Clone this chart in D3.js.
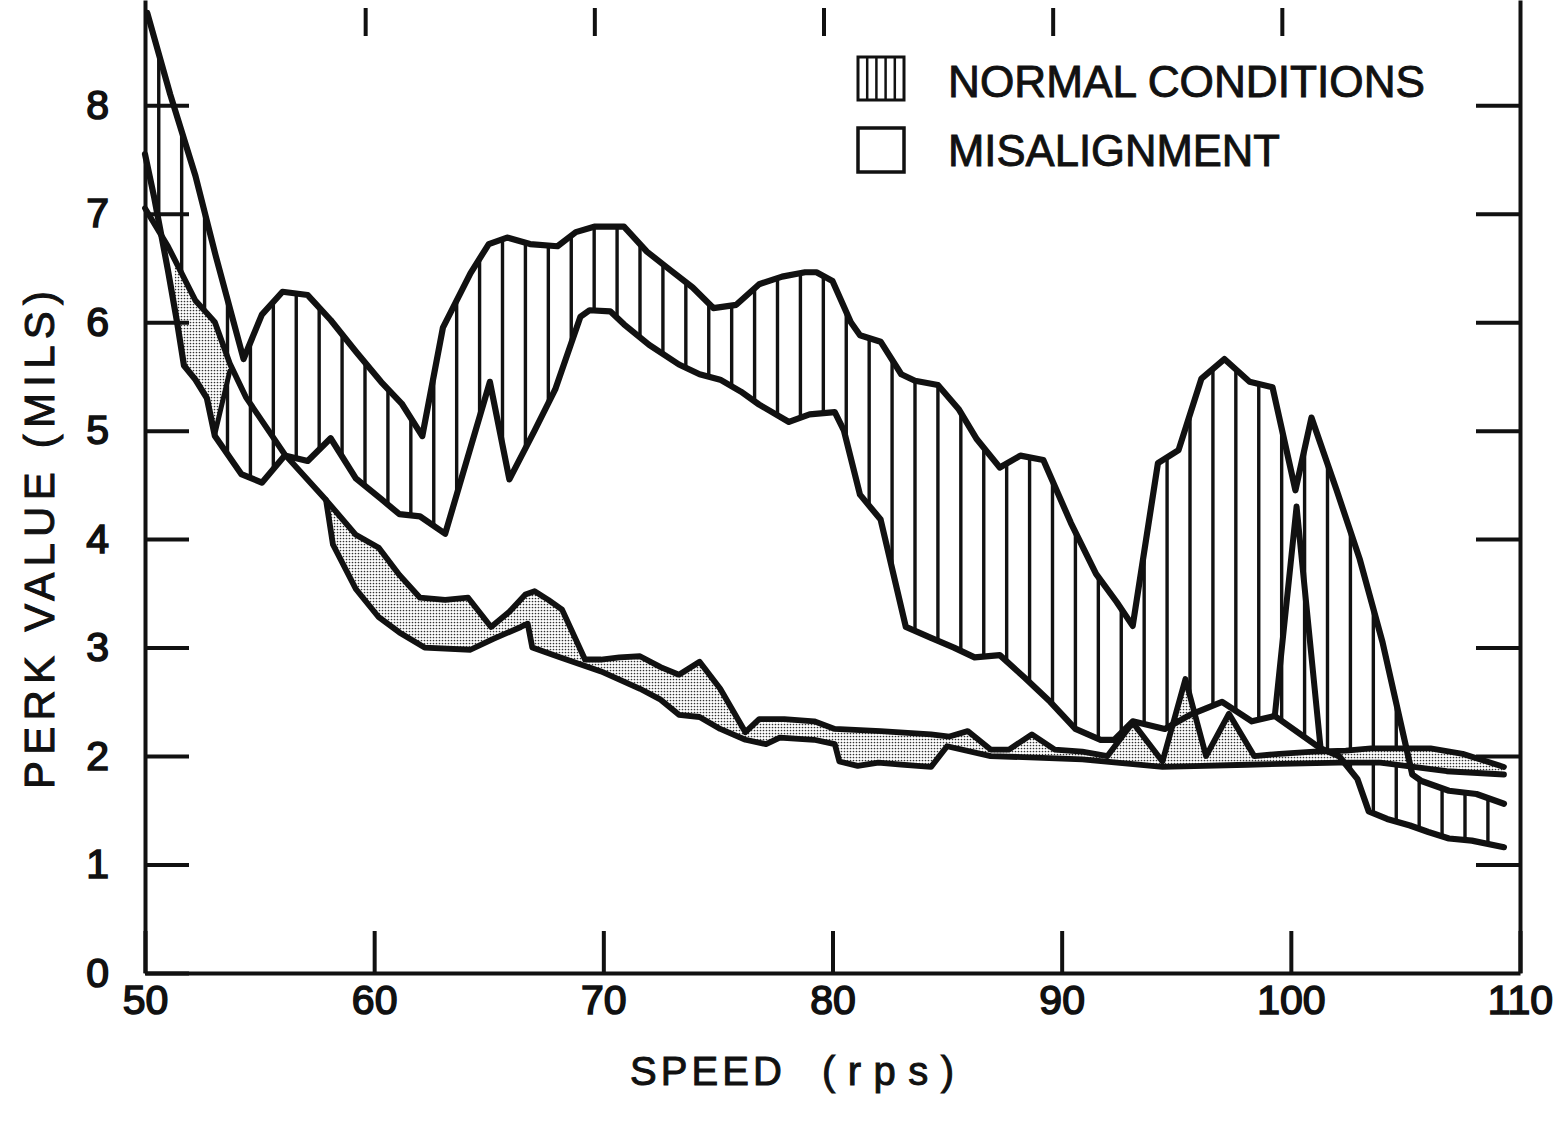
<!DOCTYPE html>
<html><head><meta charset="utf-8">
<script src="https://cdn.jsdelivr.net/npm/d3@7"></script>
<style>html,body{margin:0;padding:0;background:#fff;} svg{display:block;}</style>
</head><body><svg id="chart" width="1559" height="1122"></svg>
<script>
// ---- data (speed in rps, perk value in mils) ----
const xTicks = [50, 60, 70, 80, 90, 100, 110];
const yTicks = [0, 1, 2, 3, 4, 5, 6, 7, 8];
const legendLabels = ["NORMAL CONDITIONS", "MISALIGNMENT"];

const normalHigh = [[50.1,8.85],[51.1,8.1],[52.2,7.35],[53.1,6.6],[54.3,5.66],[55.1,6.07],[56.0,6.28],[57.1,6.25],[58.1,6.02],[59.2,5.73],[60.3,5.45],[61.2,5.25],[62.1,4.95],[63.0,5.95],[64.2,6.45],[65.0,6.72],[65.8,6.78],[66.8,6.72],[68.0,6.7],[68.8,6.83],[69.6,6.88],[70.9,6.88],[71.9,6.65],[72.8,6.5],[73.9,6.32],[74.8,6.13],[75.8,6.16],[76.8,6.35],[77.8,6.42],[78.8,6.46],[79.3,6.46],[80.0,6.38],[80.8,6.0],[81.2,5.88],[82.1,5.82],[83.0,5.52],[83.6,5.46],[84.6,5.42],[85.5,5.2],[86.3,4.92],[87.3,4.66],[88.2,4.77],[89.2,4.73],[90.4,4.15],[91.5,3.68],[92.4,3.42],[93.1,3.2],[94.2,4.7],[95.1,4.82],[96.1,5.48],[97.1,5.66],[98.2,5.45],[99.2,5.4],[100.2,4.45],[100.9,5.12],[102.0,4.45],[103.0,3.82],[104.0,3.05],[105.3,1.83],[105.7,1.77],[106.9,1.68],[108.1,1.65],[109.3,1.56]];

const normalLow = [[50.0,7.55],[50.4,7.15],[51.0,6.48],[51.4,6.0],[51.7,5.6],[52.2,5.47],[52.7,5.3],[53.05,4.95],[54.2,4.6],[55.1,4.52],[56.1,4.77],[57.1,4.72],[58.1,4.93],[59.2,4.56],[60.3,4.37],[61.1,4.23],[62.0,4.21],[63.1,4.05],[65.05,5.45],[65.9,4.55],[67.0,5.0],[67.9,5.38],[69.0,6.05],[69.4,6.11],[70.3,6.1],[70.9,5.98],[72.0,5.79],[73.3,5.61],[74.2,5.52],[75.1,5.47],[76.0,5.36],[76.8,5.24],[78.1,5.08],[79.0,5.15],[80.1,5.17],[80.5,5.0],[81.2,4.41],[82.1,4.18],[83.2,3.19],[84.3,3.09],[85.3,3.0],[86.2,2.91],[87.3,2.93],[88.4,2.72],[89.5,2.5],[90.6,2.25],[91.7,2.15],[92.3,2.15],[93.1,2.32],[94.5,2.25],[95.6,2.38],[97.0,2.5],[98.3,2.32],[99.3,2.37],[101.3,2.07],[102.1,2.0],[102.9,1.79],[103.4,1.49],[104.2,1.42],[105.2,1.36],[106.0,1.3],[106.9,1.24],[107.9,1.22],[109.3,1.16]];

const spikeLine = [[99.3,2.37],[100.25,4.3],[101.3,2.07]];

const misalignHigh = [[50.0,7.05],[51.0,6.7],[52.2,6.2],[53.05,6.0],[53.7,5.62],[54.4,5.31],[56.1,4.78],[57.9,4.36],[59.2,4.04],[60.2,3.92],[61.1,3.67],[62.0,3.46],[63.1,3.44],[64.1,3.46],[65.1,3.19],[65.9,3.33],[66.6,3.49],[67.0,3.52],[67.6,3.44],[68.2,3.35],[69.2,2.89],[69.9,2.89],[70.7,2.91],[71.6,2.92],[72.5,2.82],[73.3,2.75],[74.2,2.87],[75.1,2.62],[76.2,2.22],[76.8,2.34],[77.9,2.34],[79.2,2.32],[80.1,2.25],[82.1,2.23],[84.3,2.2],[85.1,2.18],[85.9,2.23],[86.9,2.06],[87.7,2.06],[88.7,2.2],[89.7,2.06],[90.9,2.04],[92.0,2.0],[93.1,2.31],[94.4,1.95],[95.4,2.71],[96.3,2.0],[97.3,2.39],[98.4,2.0],[99.5,2.02],[101.0,2.04],[102.4,2.05],[103.5,2.07],[106.1,2.07],[107.5,2.02],[109.3,1.9]];

const misalignLow = [[57.9,4.36],[58.2,3.95],[59.2,3.54],[60.2,3.28],[61.1,3.14],[62.2,3.0],[64.2,2.98],[65.2,3.08],[66.4,3.19],[66.7,3.22],[66.9,3.0],[68.1,2.91],[69.9,2.78],[71.6,2.62],[72.5,2.52],[73.3,2.38],[74.2,2.36],[75.1,2.25],[76.2,2.15],[77.1,2.11],[77.7,2.17],[79.2,2.15],[80.1,2.11],[80.3,1.95],[81.1,1.91],[82.0,1.94],[83.0,1.92],[84.3,1.9],[85.0,2.09],[86.9,2.0],[90.9,1.97],[94.4,1.9],[98.1,1.92],[102.1,1.94],[103.9,1.94],[106.8,1.86],[109.3,1.83]];

const earlyOverlapHigh = [[51.3,6.55],[51.7,6.4],[52.2,6.2],[52.7,6.1],[53.05,6.0],[53.7,5.62]];
const earlyOverlapLow = [[51.3,6.15],[51.7,5.6],[52.2,5.47],[52.7,5.3],[53.05,4.97],[53.7,5.55]];

// ---- layout ----
const svg = d3.select("#chart");
const x = d3.scaleLinear().domain([50, 110]).range([145, 1520]);
const y = d3.scaleLinear().domain([0, 8.97]).range([973, 0]);
const FONT = "'Liberation Sans', Arial, sans-serif";
const INK = "#111";

const defs = svg.append("defs");
const pat = defs.append("pattern").attr("id","stipple").attr("patternUnits","userSpaceOnUse")
  .attr("width",3).attr("height",3);
pat.append("rect").attr("width",3).attr("height",3).attr("fill","#fff");
pat.append("circle").attr("cx",1.5).attr("cy",1.5).attr("r",0.85).attr("fill","#333");

const line = d3.line().x(d => x(d[0])).y(d => y(d[1]));
const band = (hi, lo) => line(hi.concat(lo.slice().reverse())) + "Z";

// hatched normal band
defs.append("clipPath").attr("id","normalClip").append("path").attr("d", band(normalHigh, normalLow));
const hatchX = d3.range(50.6, 109.6, 1);
svg.append("g").attr("clip-path","url(#normalClip)")
  .selectAll("line").data(hatchX).join("line")
  .attr("x1", d => x(d)).attr("x2", d => x(d))
  .attr("y1", y(9)).attr("y2", y(0))
  .attr("stroke", INK).attr("stroke-width", 3.4);

// stippled bands
const stipHi = misalignHigh.filter(d => d[0] >= misalignLow[0][0]);
svg.append("path").attr("d", band(stipHi, misalignLow)).attr("fill","url(#stipple)");
svg.append("path").attr("d", band(earlyOverlapHigh, earlyOverlapLow)).attr("fill","url(#stipple)");

// curves
const curves = [
  {data: normalHigh, w: 6.2},
  {data: normalLow, w: 6.2},
  {data: spikeLine, w: 6},
  {data: misalignHigh, w: 5.8},
  {data: misalignLow, w: 5.8},
  {data: earlyOverlapLow.slice(-2), w: 5}
];
svg.append("g").selectAll("path").data(curves).join("path")
  .attr("d", d => line(d.data)).attr("fill","none")
  .attr("stroke", INK).attr("stroke-width", d => d.w)
  .attr("stroke-linejoin","round").attr("stroke-linecap","round");

// axes
function styleAxis(g){
  g.selectAll("path.domain").attr("stroke", INK).attr("stroke-width", 4);
  g.selectAll(".tick line").attr("stroke", INK).attr("stroke-width", 4);
  g.selectAll("text").attr("font-family", FONT).attr("font-size", 41).attr("fill", INK)
    .attr("stroke", INK).attr("stroke-width", 1.6);
}
svg.append("g").attr("transform",`translate(${x(50)},0)`)
  .call(d3.axisLeft(y).tickValues(yTicks).tickSizeInner(-44).tickSizeOuter(0).tickPadding(36).tickFormat(d3.format("d")))
  .call(styleAxis);
svg.append("g").attr("transform",`translate(0,${y(0)})`)
  .call(d3.axisBottom(x).tickValues(xTicks).tickSizeInner(-42).tickSizeOuter(0).tickPadding(12).tickFormat(d3.format("d")))
  .call(styleAxis);
svg.append("g").attr("transform",`translate(${x(110)},0)`)
  .call(d3.axisRight(y).tickValues(yTicks.slice(1)).tickSizeInner(-44).tickSizeOuter(0).tickFormat(""))
  .call(styleAxis);
const topAx = svg.append("g").attr("transform",`translate(-9,${y(8.97) + 8})`)
  .call(d3.axisTop(x).tickValues(xTicks.slice(1, -1)).tickSizeInner(-28).tickSizeOuter(0).tickFormat(""))
  .call(styleAxis);
topAx.select("path.domain").remove();

// axis titles
svg.append("text").attr("transform","translate(54,540) rotate(-90)")
  .attr("text-anchor","middle").attr("font-family",FONT).attr("font-size",42)
  .attr("fill",INK).attr("stroke",INK).attr("stroke-width",1)
  .attr("textLength",498).attr("lengthAdjust","spacing").text("PERK VALUE  (MILS)");
svg.append("text").attr("x",630).attr("y",1085).attr("font-family",FONT).attr("font-size",40)
  .attr("fill",INK).attr("stroke",INK).attr("stroke-width",1)
  .attr("textLength",152).attr("lengthAdjust","spacing").text("SPEED");
svg.append("text").attr("x",822).attr("y",1085).attr("font-family",FONT).attr("font-size",40)
  .attr("fill",INK).attr("stroke",INK).attr("stroke-width",1)
  .attr("textLength",132).attr("lengthAdjust","spacing").text("(rps)");

// legend
const lg = svg.append("g");
lg.append("rect").attr("x",858).attr("y",57).attr("width",46).attr("height",43)
  .attr("fill","#fff").attr("stroke",INK).attr("stroke-width",3);
lg.selectAll("line.h").data(d3.range(1,5)).join("line").attr("class","h")
  .attr("x1", d => 858 + d*9.2).attr("x2", d => 858 + d*9.2).attr("y1",57).attr("y2",100)
  .attr("stroke",INK).attr("stroke-width",2.5);
lg.append("rect").attr("x",858).attr("y",128).attr("width",46).attr("height",44)
  .attr("fill","#fff").attr("stroke",INK).attr("stroke-width",3.5);
lg.selectAll("text").data(legendLabels).join("text")
  .attr("x",948).attr("y",(d,i) => 97 + i*69)
  .attr("font-family",FONT).attr("font-size",44).attr("fill",INK)
  .attr("stroke",INK).attr("stroke-width",0.9)
  .attr("textLength",(d,i) => i ? 332 : 477).attr("lengthAdjust","spacingAndGlyphs")
  .text(d => d);
</script></body></html>
